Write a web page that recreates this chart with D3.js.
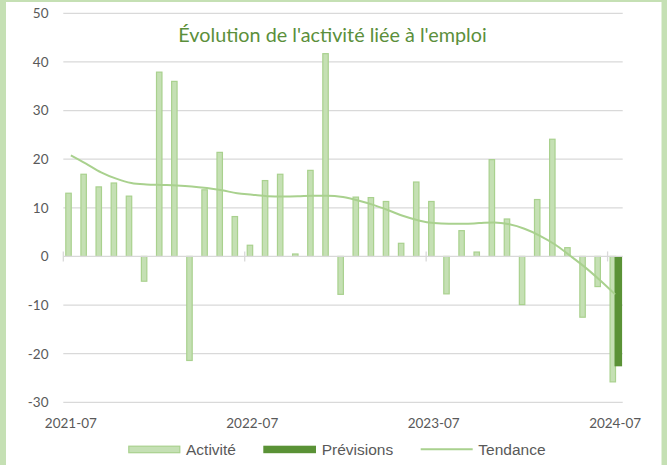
<!DOCTYPE html>
<html><head><meta charset="utf-8">
<script src="https://cdn.jsdelivr.net/npm/d3@7"></script>
<style>html,body{margin:0;padding:0;background:#c5e0b4;}svg{display:block;}</style>
</head><body>
<svg id="chart" width="667" height="465"></svg>
<script>
const months = ["2021-07","2021-08","2021-09","2021-10","2021-11","2021-12",
  "2022-01","2022-02","2022-03","2022-04","2022-05","2022-06",
  "2022-07","2022-08","2022-09","2022-10","2022-11","2022-12",
  "2023-01","2023-02","2023-03","2023-04","2023-05","2023-06",
  "2023-07","2023-08","2023-09","2023-10","2023-11","2023-12",
  "2024-01","2024-02","2024-03","2024-04","2024-05","2024-06","2024-07"];
const activite = [13.0,16.9,14.3,15.1,12.4,-5.1,
  37.9,36.0,-21.4,13.7,21.4,8.2,
  2.3,15.6,16.9,0.5,17.7,41.7,
  -7.8,12.2,12.1,11.3,2.7,15.3,
  11.3,-7.7,5.3,0.9,19.9,7.7,
  -9.9,11.7,24.1,1.8,-12.5,-6.2,-25.8];
const previsions = [null,null,null,null,null,null,
  null,null,null,null,null,null,
  null,null,null,null,null,null,
  null,null,null,null,null,null,
  null,null,null,null,null,null,
  null,null,null,null,null,null,-22.6];
const tendance = [20.8,19.1,17.3,16.0,15.1,14.8,
  14.7,14.6,14.4,14.05,13.6,13.0,
  12.7,12.4,12.3,12.35,12.5,12.5,
  12.2,11.5,10.6,9.5,8.3,7.4,
  6.85,6.7,6.7,6.85,7.0,6.6,
  5.7,4.3,2.5,0.2,-2.2,-4.9,-7.8];
const xTickLabels = ["2021-07","2022-07","2023-07","2024-07"];
const yTicks = [-30,-20,-10,0,10,20,30,40,50];
const title = "Évolution de l'activité liée à l'emploi";
const legendLabels = ["Activité","Prévisions","Tendance"];

const C = {light:"#c5e0b4", mid:"#a9d18e", dark:"#5a9236", title:"#5b8f3b", grid:"#d9d9d9", text:"#595959"};

const svg = d3.select("#chart");
svg.append("rect").attr("x",6).attr("y",2).attr("width",655.5).attr("height",470).attr("fill","#fff");

const x = d3.scaleBand().domain(months).range([63.3,622.7]).padding(0);
const y = d3.scaleLinear().domain([-30,50]).range([402.3,13.3]);
const bw = x.bandwidth();

// gridlines
svg.append("g").selectAll("line").data(yTicks.filter(d=>d!==0)).join("line")
  .attr("x1",x.range()[0]).attr("x2",x.range()[1])
  .attr("y1",d=>y(d)).attr("y2",d=>y(d))
  .attr("stroke",C.grid).attr("stroke-width",1.3);

// y labels
svg.append("g").selectAll("text").data(yTicks).join("text")
  .attr("x",48.5).attr("y",d=>y(d)).attr("dy","0.36em")
  .attr("text-anchor","end").attr("font-family","Lato, sans-serif").attr("font-size",13.5)
  .attr("fill",C.text).text(d=>d);

// bars
svg.append("g").selectAll("rect").data(months).join("rect")
  .attr("x",d=>x(d)+bw*0.165).attr("width",bw*0.36)
  .attr("y",(d,i)=>y(Math.max(0,activite[i])))
  .attr("height",(d,i)=>Math.abs(y(activite[i])-y(0)))
  .attr("fill",C.light).attr("stroke",C.mid).attr("stroke-width",1.2);

svg.append("g").selectAll("rect").data(months.filter((d,i)=>previsions[i]!=null)).join("rect")
  .attr("x",d=>x(d)+bw*0.46).attr("width",bw*0.5)
  .attr("y",d=>y(Math.max(0,previsions[months.indexOf(d)])))
  .attr("height",d=>Math.abs(y(previsions[months.indexOf(d)])-y(0)))
  .attr("fill",C.dark);

// x axis line
svg.append("line").attr("x1",x.range()[0]).attr("x2",x.range()[1])
  .attr("y1",y(0)).attr("y2",y(0)).attr("stroke",C.grid).attr("stroke-width",1.3);
svg.append("g").selectAll("line").data(xTickLabels).join("line")
  .attr("x1",d=>x(d)).attr("x2",d=>x(d)).attr("y1",y(0)-5).attr("y2",y(0)+5)
  .attr("stroke",C.grid).attr("stroke-width",1.3);
svg.append("g").selectAll("text").data(xTickLabels).join("text")
  .attr("x",d=>x(d)+bw/2).attr("y",428).attr("text-anchor","middle")
  .attr("font-family","Lato, sans-serif").attr("font-size",13.5).attr("fill",C.text).text(d=>d);

// trend
const line = d3.line().x((d,i)=>x(months[i])+bw/2).y(d=>y(d)).curve(d3.curveMonotoneX);
svg.append("path").datum(tendance).attr("d",line).attr("fill","none")
  .attr("stroke",C.mid).attr("stroke-width",2);

// title
svg.append("text").attr("x",332.5).attr("y",42).attr("text-anchor","middle")
  .attr("font-family","Lato, sans-serif").attr("font-size",19.8).attr("fill",C.title).text(title);

// legend
const lg = svg.append("g").attr("font-family","'Liberation Sans', Arial, sans-serif").attr("font-size",15.5).attr("fill",C.text);
lg.append("rect").attr("x",128.8).attr("y",446.2).attr("width",51).attr("height",6.5).attr("fill",C.light).attr("stroke",C.mid).attr("stroke-width",1.2);
lg.append("text").attr("x",186).attr("y",455).text(legendLabels[0]);
lg.append("rect").attr("x",263.3).attr("y",445.7).attr("width",52.7).attr("height",7.5).attr("fill",C.dark);
lg.append("text").attr("x",321.7).attr("y",455).text(legendLabels[1]);
lg.append("line").attr("x1",420.7).attr("x2",472.7).attr("y1",449.3).attr("y2",449.3).attr("stroke",C.mid).attr("stroke-width",2);
lg.append("text").attr("x",478.3).attr("y",455).text(legendLabels[2]);
</script>
</body></html>
